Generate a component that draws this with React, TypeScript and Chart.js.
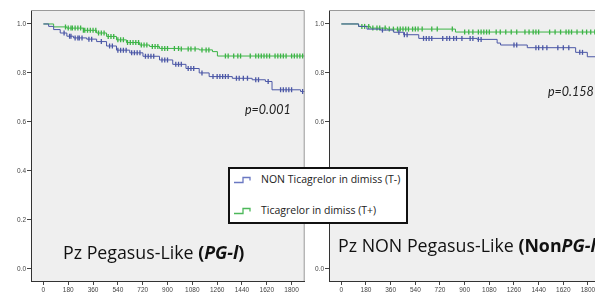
import React, { useEffect, useRef } from 'react';
import { Chart, registerables } from 'chart.js';
Chart.register(...registerables);

const xTicks = [0, 180, 360, 540, 720, 900, 1080, 1260, 1440, 1620, 1800];
const yTicks = [0, 0.2, 0.4, 0.6, 0.8, 1.0];

// Left panel: Pegasus-Like
const leftBlueT = [0, 38, 74, 122, 170, 218, 314, 386, 458, 530, 626, 722, 842, 938, 1034, 1130, 1202, 1370, 1514, 1610, 1658, 1865];
const leftBlueS = [1.0, 0.99, 0.977, 0.963, 0.95, 0.943, 0.938, 0.928, 0.91, 0.893, 0.882, 0.868, 0.853, 0.835, 0.818, 0.8, 0.785, 0.778, 0.772, 0.765, 0.731, 0.724];
const leftBlueCensor = [150, 190, 200, 230, 250, 260, 280, 330, 350, 420, 480, 500, 540, 560, 580, 600, 640, 660, 680, 700, 740, 760, 780, 800, 860, 880, 900, 960, 980, 1000, 1050, 1070, 1090, 1150, 1230, 1260, 1280, 1300, 1320, 1340, 1400, 1420, 1450, 1480, 1540, 1560, 1630, 1720, 1740, 1760, 1780, 1800, 1880];

const leftGreenT = [0, 74, 170, 290, 386, 458, 530, 602, 698, 770, 842, 986, 1130, 1226, 1262];
const leftGreenS = [1.0, 0.988, 0.983, 0.974, 0.963, 0.949, 0.935, 0.924, 0.914, 0.908, 0.9, 0.898, 0.894, 0.887, 0.869];
const leftGreenCensor = [160, 180, 200, 210, 230, 250, 270, 290, 300, 320, 340, 360, 380, 400, 420, 440, 470, 490, 510, 540, 560, 580, 610, 630, 650, 670, 690, 710, 730, 750, 790, 810, 830, 860, 880, 900, 950, 980, 1000, 1050, 1070, 1100, 1150, 1180, 1200, 1320, 1340, 1380, 1410, 1430, 1500, 1540, 1560, 1580, 1600, 1620, 1640, 1680, 1700, 1720, 1740, 1760, 1800, 1820, 1840, 1860, 1880];

// Right panel: NON Pegasus-Like
const rightBlueT = [0, 126, 187, 285, 382, 455, 565, 991, 1137, 1162, 1357, 1710, 1795];
const rightBlueS = [1.0, 0.99, 0.979, 0.975, 0.966, 0.956, 0.941, 0.937, 0.922, 0.914, 0.903, 0.884, 0.866];
const rightBlueCensor = [300, 420, 460, 480, 600, 620, 640, 660, 740, 770, 790, 820, 840, 880, 940, 960, 1000, 1020, 1260, 1280, 1420, 1440, 1470, 1500, 1580, 1620, 1660, 1740, 1760];

const rightGreenT = [0, 126, 212, 333, 833];
const rightGreenS = [1.0, 0.99, 0.983, 0.979, 0.967];
const rightGreenCensor = [150, 170, 200, 230, 260, 280, 320, 350, 380, 410, 430, 450, 470, 490, 520, 540, 560, 590, 660, 700, 810, 900, 930, 960, 1000, 1020, 1040, 1060, 1080, 1130, 1160, 1200, 1240, 1280, 1340, 1370, 1400, 1420, 1440, 1520, 1560, 1600, 1640, 1660, 1680, 1720, 1760, 1790, 1820, 1850, 1880];

const BLUE = '#4b57a6';
const GREEN = '#3cb446';
const X_MIN = -90;
const X_MAX = 1895;

function stepPoints(ts: number[], ss: number[], end: number) {
  const pts = ts.map((t, i) => ({ x: t, y: ss[i] }));
  pts.push({ x: end, y: ss[ss.length - 1] });
  return pts;
}

function censorPoints(ts: number[], ss: number[], cs: number[]) {
  return cs.map((c) => {
    let s = ss[0];
    for (let i = 0; i < ts.length; i++) if (ts[i] <= c) s = ss[i];
    return { x: c, y: s };
  });
}

const frame = {
  id: 'frame',
  beforeDraw(chart: any) {
    const { ctx, chartArea: a } = chart;
    ctx.save();
    ctx.fillStyle = '#efefef';
    ctx.fillRect(a.left, a.top, a.right - a.left, a.bottom - a.top);
    ctx.restore();
  },
  afterDraw(chart: any) {
    const { ctx, chartArea: a } = chart;
    ctx.save();
    ctx.strokeStyle = '#9a9a9a';
    ctx.lineWidth = 1;
    ctx.beginPath();
    ctx.moveTo(a.left, a.top + 0.5);
    ctx.lineTo(a.right - 0.5, a.top + 0.5);
    ctx.lineTo(a.right - 0.5, a.bottom);
    ctx.stroke();
    ctx.restore();
  },
};

function makeConfig(
  blue: { t: number[]; s: number[]; c: number[] },
  green: { t: number[]; s: number[]; c: number[] },
  yWidth: number,
  padRight: number
): any {
  const tickFont = { family: 'Liberation Sans', size: 6.5 };
  return {
    type: 'line',
    data: {
      datasets: [
        {
          data: stepPoints(blue.t, blue.s, X_MAX),
          borderColor: BLUE,
          borderWidth: 1,
          stepped: 'before',
          pointRadius: 0,
          fill: false,
        },
        {
          data: stepPoints(green.t, green.s, X_MAX),
          borderColor: GREEN,
          borderWidth: 1,
          stepped: 'before',
          pointRadius: 0,
          fill: false,
        },
        {
          data: censorPoints(blue.t, blue.s, blue.c),
          showLine: false,
          pointStyle: 'line',
          rotation: 90,
          pointRadius: 2.5,
          borderColor: BLUE,
          backgroundColor: BLUE,
          borderWidth: 1.3,
        },
        {
          data: censorPoints(green.t, green.s, green.c),
          showLine: false,
          pointStyle: 'line',
          rotation: 90,
          pointRadius: 2.5,
          borderColor: GREEN,
          backgroundColor: GREEN,
          borderWidth: 1.3,
        },
      ],
    },
    options: {
      responsive: false,
      animation: false,
      events: [],
      layout: { padding: { top: 10, right: padRight, left: 0, bottom: 0 } },
      plugins: { legend: { display: false }, tooltip: { enabled: false } },
      scales: {
        x: {
          type: 'linear',
          min: X_MIN,
          max: X_MAX,
          afterBuildTicks: (s: any) => {
            s.ticks = xTicks.map((v) => ({ value: v }));
          },
          afterFit: (s: any) => {
            s.height = 12;
          },
          ticks: {
            font: tickFont,
            color: '#444',
            maxRotation: 0,
            autoSkip: false,
            padding: 1,
            callback: (v: any) => String(v),
          },
          grid: { drawOnChartArea: false, tickLength: 4, color: '#444' },
          border: { color: '#333', width: 1 },
        },
        y: {
          type: 'linear',
          min: -0.05,
          max: 1.057,
          afterBuildTicks: (s: any) => {
            s.ticks = yTicks.map((v) => ({ value: v }));
          },
          afterFit: (s: any) => {
            s.width = yWidth;
          },
          ticks: {
            font: tickFont,
            color: '#444',
            padding: 1,
            callback: (v: any) => Number(v).toFixed(1),
          },
          grid: { drawOnChartArea: false, tickLength: 4, color: '#444' },
          border: { color: '#333', width: 1 },
        },
      },
    },
    plugins: [frame],
  };
}

function Panel(props: { left: number; width: number; config: any }) {
  const ref = useRef<HTMLCanvasElement | null>(null);
  useEffect(() => {
    if (!ref.current) return;
    const chart = new Chart(ref.current, props.config);
    return () => chart.destroy();
  }, []);
  return (
    <canvas
      ref={ref}
      width={props.width}
      height={293}
      style={{ position: 'absolute', left: props.left, top: 0, width: props.width, height: 293 }}
    />
  );
}

function StepIcon({ color }: { color: string }) {
  return (
    <svg width="20" height="8" style={{ position: 'absolute', left: 4, top: -4 }}>
      <path d="M0 6.5 H9 V1.5 H16 V4.5" fill="none" stroke={color} strokeWidth="1.3" />
    </svg>
  );
}

export default function App() {
  const leftCfg = makeConfig(
    { t: leftBlueT, s: leftBlueS, c: leftBlueCensor },
    { t: leftGreenT, s: leftGreenS, c: leftGreenCensor },
    31,
    4
  );
  const rightCfg = makeConfig(
    { t: rightBlueT, s: rightBlueS, c: rightBlueCensor },
    { t: rightGreenT, s: rightGreenS, c: rightGreenCensor },
    29,
    9
  );
  const textFont = "'Open Sans', Lato, sans-serif";
  return (
    <div
      style={{
        position: 'fixed',
        left: 0,
        top: 0,
        width: 595,
        height: 293,
        overflow: 'hidden',
        background: '#fff',
        fontFamily: textFont,
      }}
    >
      <Panel left={0} width={310} config={leftCfg} />
      <Panel left={300} width={310} config={rightCfg} />

      <div style={{ position: 'absolute', left: 245, top: 102, fontSize: 12.5, fontStyle: 'italic', color: '#222', lineHeight: '16px', fontFamily: "Lato, sans-serif" }}>
        p=0.001
      </div>
      <div style={{ position: 'absolute', left: 548, top: 84, fontSize: 12.5, fontStyle: 'italic', color: '#222', lineHeight: '16px', fontFamily: "Lato, sans-serif" }}>
        p=0.158
      </div>

      <div style={{ position: 'absolute', left: 63, top: 241, fontSize: 17.8, color: '#111', lineHeight: '22px', whiteSpace: 'nowrap' }}>
        Pz Pegasus-Like <b>(<i>PG-l</i>)</b>
      </div>
      <div style={{ position: 'absolute', left: 338, top: 234, fontSize: 17.8, color: '#111', lineHeight: '22px', whiteSpace: 'nowrap' }}>
        Pz NON Pegasus-Like <b>(Non<i>PG-l</i>)</b>
      </div>

      <div
        style={{
          position: 'absolute',
          left: 228,
          top: 167,
          width: 176,
          height: 53,
          border: '2px solid #111',
          background: '#fff',
          fontSize: 10.5,
          color: '#222',
        }}
      >
        <div style={{ position: 'absolute', left: 0, top: 11, width: '100%' }}>
          <StepIcon color="#6a78c2" />
          <span style={{ position: 'absolute', left: 31, top: -8, whiteSpace: 'nowrap', lineHeight: '15px' }}>
            NON Ticagrelor in dimiss (T-)
          </span>
        </div>
        <div style={{ position: 'absolute', left: 0, top: 42, width: '100%' }}>
          <StepIcon color="#4cb85a" />
          <span style={{ position: 'absolute', left: 31, top: -8, whiteSpace: 'nowrap', lineHeight: '15px' }}>
            Ticagrelor in dimiss (T+)
          </span>
        </div>
      </div>
    </div>
  );
}
